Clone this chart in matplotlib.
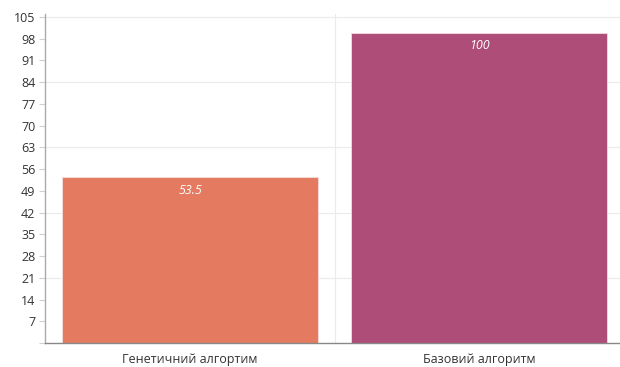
import matplotlib.pyplot as plt
import matplotlib.ticker as tck

categories = ['Генетичний алгортим', 'Базовий алгоритм']
values = [53.5, 100]
colors = ['#E47B60', '#AD4D78']
y_ticks = list(range(0, 106, 7))

plt.rcParams['font.family'] = ['Open Sans', 'DejaVu Sans']

fig = plt.figure(figsize=(6.2, 3.67), dpi=100)
ax = fig.add_axes([45.25 / 620, 24 / 367, 578.75 / 620, 329.1 / 367])

x = range(len(categories))
bars = ax.bar(x, values, width=0.884, color=colors, edgecolor='#f4dede', linewidth=0.6, zorder=2)

for bar, value in zip(bars, values):
    label = f'{value:g}'
    ax.annotate(label, (bar.get_x() + bar.get_width() / 2, value), xytext=(0, -5),
                textcoords='offset points', ha='center', va='top', color='white',
                fontsize=9, style='italic', zorder=3)

ax.set_xlim(-0.5, len(categories) - 0.5)
ax.set_ylim(0, 106)

ax.set_yticks(y_ticks)
ax.yaxis.set_major_formatter(tck.FuncFormatter(lambda v, _: '' if v == 0 else f'{v:g}'))
ax.set_xticks(list(x))
ax.set_xticklabels(categories)
ax.tick_params(axis='y', length=4, color='#d0d0d0', labelsize=9, labelcolor='#333333', pad=3)
ax.tick_params(axis='x', length=0, labelsize=9, labelcolor='#333333', pad=7)

# horizontal grid every 21, vertical separator between categories
for v in range(21, 106, 21):
    ax.axhline(v, color='#ebebeb', linewidth=0.8, zorder=1)
ax.axvline(0.5, color='#ebebeb', linewidth=0.8, zorder=1)

for side in ['top', 'right']:
    ax.spines[side].set_visible(False)
ax.spines['left'].set_color('#aaaaaa')
ax.spines['bottom'].set_color('#888888')
ax.spines['left'].set_linewidth(1)
ax.spines['bottom'].set_linewidth(1)

fig.savefig('out.png', dpi=100)
